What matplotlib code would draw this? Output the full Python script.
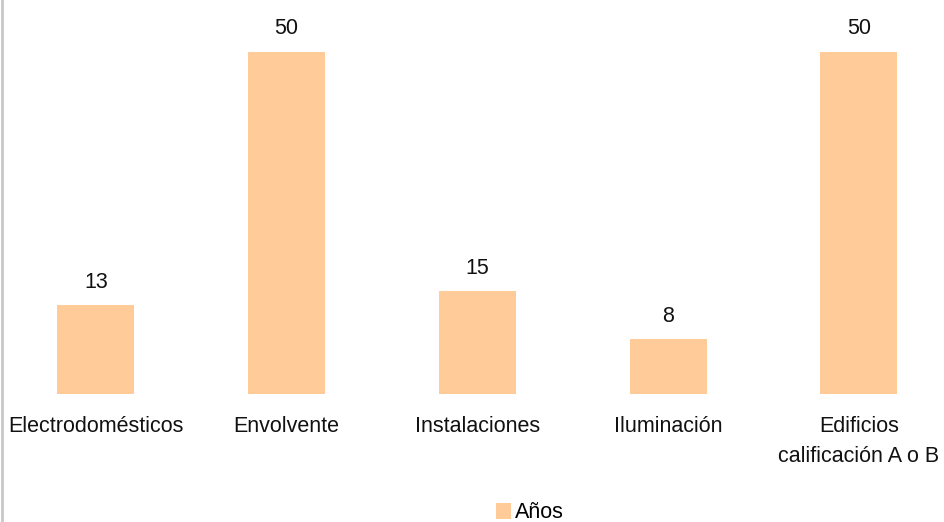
import matplotlib.pyplot as plt
from matplotlib.lines import Line2D

categories = ["Electrodomésticos", "Envolvente", "Instalaciones", "Iluminación",
              "Edificios\ncalificación A o B"]
anios = [13, 50, 15, 8, 50]

plt.rcParams["font.family"] = ["Liberation Sans", "DejaVu Sans"]

fig = plt.figure(figsize=(9.44, 5.22), dpi=100)
ax = fig.add_axes([0.0, 128 / 522, 1.0, 394 / 522])

x = list(range(len(categories)))
bars = ax.bar(x, anios, width=0.404, color="#FFCC99", label="Años")

for xi, v in zip(x, anios):
    ax.annotate(str(v), (xi, v), xytext=(0, 9), textcoords="offset points",
                ha="center", va="bottom", fontsize=15.5, color="#111111")

ax.set_xlim(-0.503, 4.447)
ax.set_ylim(0, 57.6)
ax.set_xticks(x)
ax.set_xticklabels(categories, fontsize=15.5, color="#111111", linespacing=1.55)
ax.tick_params(axis="x", length=0, pad=16)
ax.set_yticks([])
for s in ax.spines.values():
    s.set_visible(False)

fig.legend(handles=[bars], labels=["Años"], loc="center",
           bbox_to_anchor=(530 / 944, 1 - 513 / 522), frameon=False,
           fontsize=15.5, handlelength=0.7, handleheight=0.7, handletextpad=0.2,
           borderpad=0)

fig.add_artist(Line2D([2 / 944, 2 / 944], [0, 1], transform=fig.transFigure,
                      color="#C8C8C8", linewidth=2))

fig.savefig("out.png", dpi=100)
